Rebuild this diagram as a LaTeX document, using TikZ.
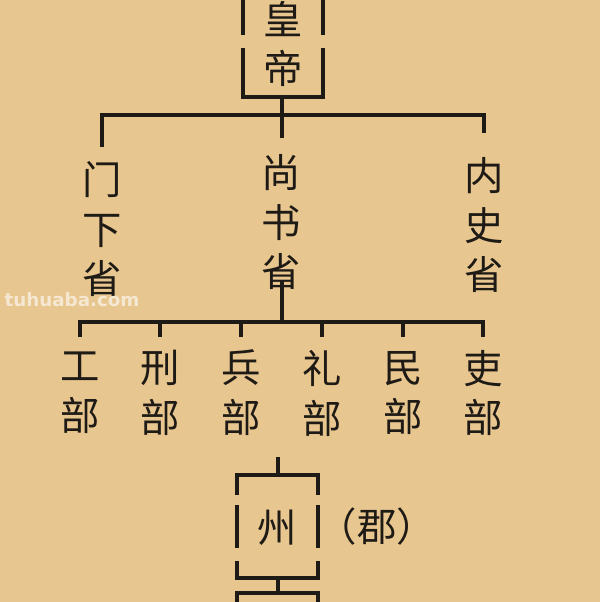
\documentclass[tikz,border=0pt]{standalone}
\usepackage{fontspec}
\usepackage{xcolor}
\usepackage{tikz}
\newfontfamily\cjk{Noto Sans CJK SC}
\newfontfamily\wmfont{DejaVu Sans}
\definecolor{paper}{RGB}{232,198,143}
\definecolor{ink}{RGB}{30,26,22}
\tikzset{
  link/.style={draw=ink, line width=2.2pt},
  col/.style={inner sep=0pt, align=center, text=ink, font=\cjk\fontsize{28}{35.5}\selectfont},
  side/.style={inner sep=0pt, text=ink, font=\cjk\fontsize{28}{35.5}\selectfont}
}

\begin{document}
\begin{tikzpicture}[x=0.025cm, y=-0.025cm]
\useasboundingbox (0,0) rectangle (600,602);
\fill[paper] (0,0) rectangle (600,602);
\clip (0,0) rectangle (600,602);

% emperor
\node[col] (huangdi) at (283,44) {皇\\帝};
\draw[link] (243,-5) -- (243,35);
\draw[link] (243,48) -- (243,97) -- (323,97) -- (323,48);
\draw[link] (323,35) -- (323,-5);
\coordinate (hd-b) at (282,97);

% three departments
\node[col] (menxia) at (102,229) {门\\下\\省};
\node[col] (shangshu) at (281,222) {尚\\书\\省};
\node[col] (neishi) at (484,225) {内\\史\\省};
\coordinate (bar1) at (282,115);
\coordinate (sx-t) at (282,138);
\draw[link] (hd-b) -- (sx-t);
\draw[link] (menxia |- 0,147) -- (menxia |- bar1) -- (neishi |- bar1) -- (neishi |- 0,133);

% six ministries
\node[col] (gong) at (80,393) {工\\部};
\node[col] (xing) at (160,393) {刑\\部};
\node[col] (bing) at (241,393) {兵\\部};
\node[col] (li) at (322,393) {礼\\部};
\node[col] (min) at (403,393) {民\\部};
\node[col] (libu) at (483,393) {吏\\部};
\coordinate (sx-b) at (282,280);
\coordinate (bar2) at (282,322);
\coordinate (drop) at (282,337);
\draw[link] (sx-b) -- (bar2);
\draw[link] (gong |- drop) -- (gong |- bar2) -- (libu |- bar2) -- (libu |- drop);
\draw[link] (xing |- bar2) -- (xing |- drop);
\draw[link] (bing |- bar2) -- (bing |- drop);
\draw[link] (li |- bar2) -- (li |- drop);
\draw[link] (min |- bar2) -- (min |- drop);

% prefecture
\node[col] (zhou) at (277,528) {州};
\node[side] (jun) at (377,527) {（郡）};
\coordinate (zh-t) at (278,475);
\coordinate (zh-b) at (278,578);
\draw[link] (zh-t) -- (278,457);
\draw[link] (237,495) -- (237,475) -- (318,475) -- (318,495);
\draw[link] (237,505) -- (237,548);
\draw[link] (318,505) -- (318,548);
\draw[link] (237,561) -- (237,578) -- (318,578) -- (318,561);
\coordinate (next-t) at (278,593);
\draw[link] (zh-b) -- (next-t);
\draw[link] (237,612) -- (237,593) -- (318,593) -- (318,612);

% watermark
\node[text=white, opacity=0.6, font=\wmfont\bfseries\fontsize{13}{15}\selectfont] (wm) at (72,300) {tuhuaba.com};
\end{tikzpicture}
\end{document}
